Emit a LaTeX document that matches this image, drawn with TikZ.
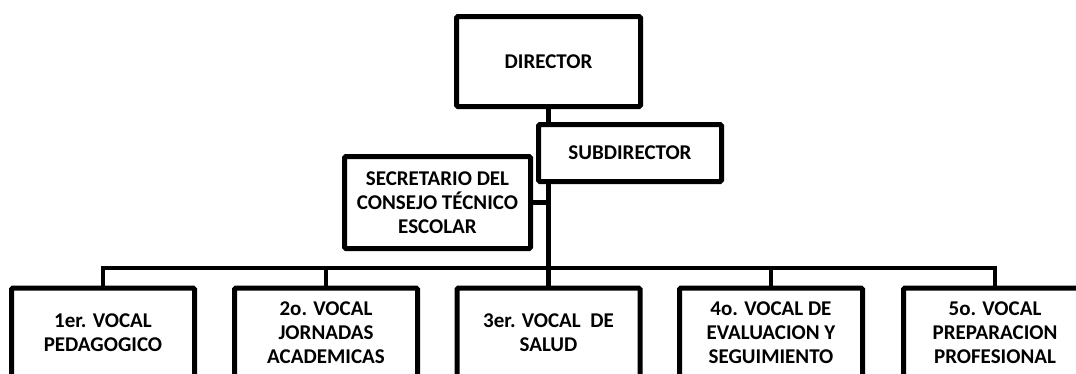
\documentclass[tikz,border=0pt]{standalone}
\usepackage{fontspec}
\setmainfont{Carlito}
\tikzset{
  box/.style={draw=black, line width=5pt, rounded corners=1.5pt, fill=white,
    align=center, font=\fontsize{21}{24}\selectfont\bfseries, inner sep=2pt},
  conn/.style={draw=black, line width=4.5pt}
}
\begin{document}
\begin{tikzpicture}[x=1pt,y=-1pt]
\fill[white] (0,0) rectangle (1076,373);
\path[use as bounding box, clip] (0,0) rectangle (1076,373);
\node[box, minimum width=184pt, minimum height=90pt] (dir) at (548.5,61.5) {DIRECTOR};
\node[box, minimum width=183pt, minimum height=57pt] (sub) at (630,153) {SUBDIRECTOR};
\node[box, minimum width=186pt, minimum height=92pt] (sec) at (437.5,202.5) {SECRETARIO DEL\\CONSEJO TÉCNICO\\ESCOLAR};
\node[box, minimum width=183pt, minimum height=89pt] (v1) at (103,332.5) {1er. VOCAL\\PEDAGOGICO};
\node[box, minimum width=183pt, minimum height=89pt] (v2) at (326,332.5) {2o. VOCAL\\JORNADAS\\ACADEMICAS};
\node[box, minimum width=183pt, minimum height=89pt] (v3) at (548.5,332.5) {3er. VOCAL\ \ DE\\SALUD};
\node[box, minimum width=183pt, minimum height=89pt] (v4) at (771,332.5) {4o. VOCAL DE\\EVALUACION Y\\SEGUIMIENTO};
\node[box, minimum width=183pt, minimum height=89pt] (v5) at (995,332.5) {5o. VOCAL\\PREPARACION\\PROFESIONAL};
\coordinate (bus) at (548.5,268);
\draw[conn] (dir.south) -- (dir.south |- sub.north);
\draw[conn] (dir.south |- sub.south) -- (bus);
\draw[conn] (sec.east) -- (sec.east -| dir.south);
\draw[conn] (v1.north) -- (v1.north |- bus) -- (v5.north |- bus) -- (v5.north);
\draw[conn] (v2.north) -- (v2.north |- bus);
\draw[conn] (v3.north) -- (v3.north |- bus);
\draw[conn] (v4.north) -- (v4.north |- bus);
\end{tikzpicture}
\end{document}
